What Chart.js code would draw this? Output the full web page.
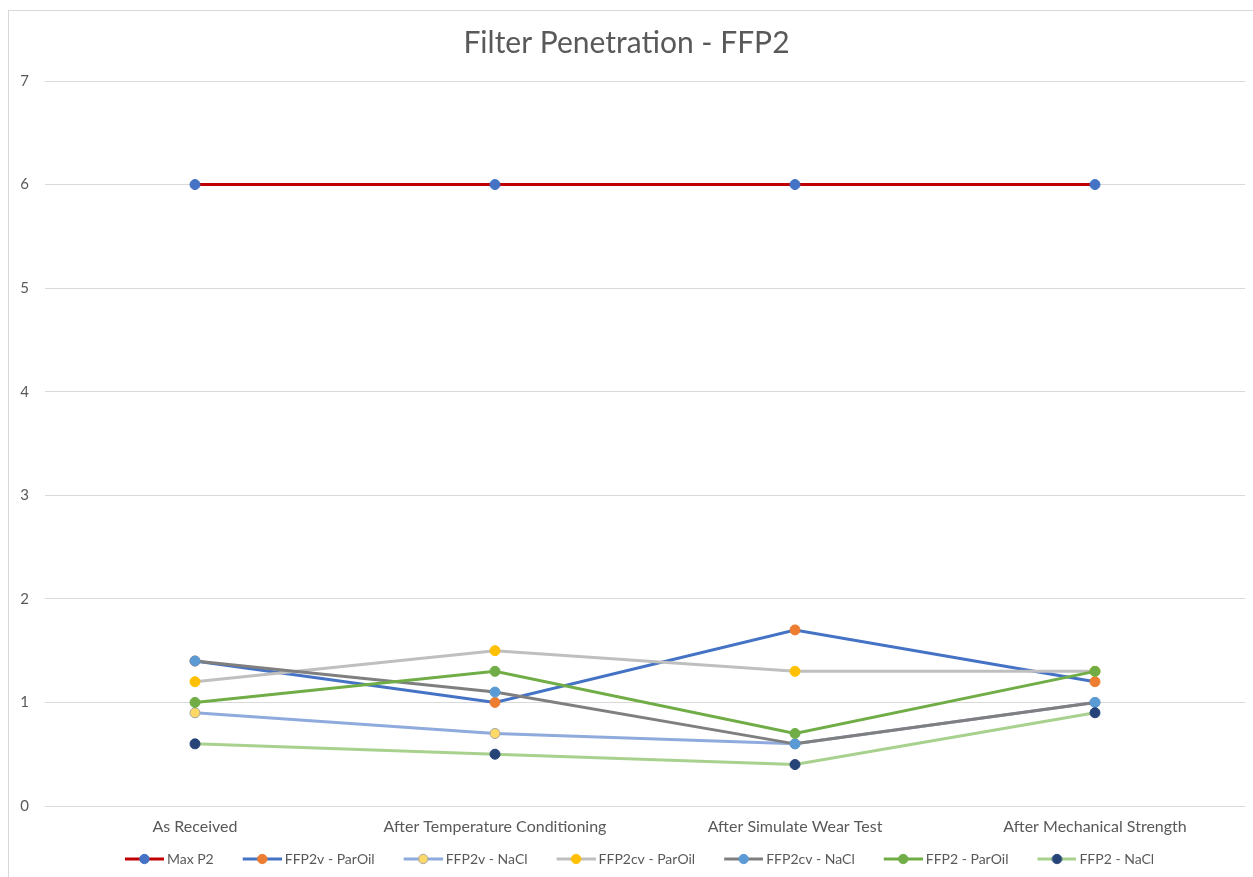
<!DOCTYPE html>
<html>
<head>
<meta charset="utf-8">
<title>Filter Penetration - FFP2</title>
<script src="https://cdn.jsdelivr.net/npm/chart.js@4"></script>
<style>
    html, body { margin: 0; padding: 0; background: #ffffff; }
    #wrap { width: 1253px; height: 877px; position: relative; }
</style>
</head>
<body>
<div id="wrap"><canvas id="penetrationChart" width="1253" height="877"></canvas></div>
<script>
// ==================== Data ====================
const categories = ['As Received', 'After Temperature Conditioning', 'After Simulate Wear Test', 'After Mechanical Strength'];
const yTicks = [0, 1, 2, 3, 4, 5, 6, 7];

const maxP2 = [6, 6, 6, 6];
const ffp2vParOil = [1.4, 1.0, 1.7, 1.2];
const ffp2vNaCl = [0.9, 0.7, 0.6, 1.0];
const ffp2cvParOil = [1.2, 1.5, 1.3, 1.3];
const ffp2cvNaCl = [1.4, 1.1, 0.6, 1.0];
const ffp2ParOil = [1.0, 1.3, 0.7, 1.3];
const ffp2NaCl = [0.6, 0.5, 0.4, 0.9];

const seriesNames = ['Max P2', 'FFP2v - ParOil', 'FFP2v - NaCl', 'FFP2cv - ParOil', 'FFP2cv - NaCl', 'FFP2 - ParOil', 'FFP2 - NaCl'];
const seriesValues = [maxP2, ffp2vParOil, ffp2vNaCl, ffp2cvParOil, ffp2cvNaCl, ffp2ParOil, ffp2NaCl];
const lineColors = ['#c00000', '#4472c4', '#8faadc', '#bfbfbf', '#7f7f7f', '#70ad47', '#a9d18e'];
const markerColors = ['#4472c4', '#ed7d31', '#ffd966', '#ffc000', '#5b9bd5', '#70ad47', '#264478'];
const markerBorders = ['#4472c4', '#ed7d31', '#a5a5a5', '#ffc000', '#5b9bd5', '#70ad47', '#264478'];

const textColor = '#595959';
const gridColor = '#d9d9d9';
const fontFamily = 'Lato, "Open Sans", sans-serif';

// ==================== Legend swatches (line + marker) ====================
// canvas is wider than the visible swatch: the blank left part spaces the items apart
function makeSwatch(lineColor, fill, border) {
    const c = document.createElement('canvas');
    c.width = 69;
    c.height = 12;
    const ctx = c.getContext('2d');
    ctx.strokeStyle = lineColor;
    ctx.lineWidth = 3;
    ctx.beginPath();
    ctx.moveTo(30, 6);
    ctx.lineTo(69, 6);
    ctx.stroke();
    ctx.beginPath();
    ctx.arc(49.5, 6, 4.7, 0, Math.PI * 2);
    ctx.fillStyle = fill;
    ctx.fill();
    ctx.lineWidth = 1;
    ctx.strokeStyle = border;
    ctx.stroke();
    return c;
}

// ==================== Frame plugin ====================
const framePlugin = {
    id: 'frame',
    beforeDraw(chart) {
        const ctx = chart.ctx;
        ctx.save();
        ctx.fillStyle = '#ffffff';
        ctx.fillRect(0, 0, chart.width, chart.height);
        ctx.strokeStyle = gridColor;
        ctx.lineWidth = 1;
        ctx.strokeRect(8.5, 10.5, chart.width + 10, chart.height + 10);
        ctx.restore();
    }
};

// ==================== Chart ====================
const datasets = seriesNames.map((name, i) => ({
    label: name,
    data: seriesValues[i],
    borderColor: lineColors[i],
    backgroundColor: markerColors[i],
    pointBackgroundColor: markerColors[i],
    pointBorderColor: markerBorders[i],
    pointBorderWidth: 1,
    pointRadius: 5,
    pointHoverRadius: 5,
    borderWidth: 3,
    tension: 0,
    fill: false,
    order: seriesNames.length - i
}));

const ctx = document.getElementById('penetrationChart').getContext('2d');
const penetrationChart = new Chart(ctx, {
    type: 'line',
    data: { labels: categories, datasets: datasets },
    options: {
        responsive: false,
        animation: false,
        devicePixelRatio: 1,
        layout: { padding: { left: 8, right: 8, top: 10, bottom: 1 } },
        plugins: {
            title: {
                display: true,
                text: 'Filter Penetration - FFP2',
                color: textColor,
                font: { family: fontFamily, size: 30, weight: 'normal' },
                padding: { top: 15, bottom: 20 }
            },
            legend: {
                display: true,
                position: 'bottom',
                labels: {
                    color: textColor,
                    font: { family: fontFamily, size: 14 },
                    usePointStyle: true,
                    pointStyleWidth: 61,
                    padding: 3,
                    generateLabels(chart) {
                        return chart.data.datasets.map((ds, i) => ({
                            text: ds.label,
                            fontColor: textColor,
                            pointStyle: makeSwatch(lineColors[i], markerColors[i], markerBorders[i]),
                            lineWidth: 0,
                            strokeStyle: 'transparent',
                            fillStyle: 'transparent',
                            hidden: false,
                            datasetIndex: i
                        }));
                    }
                }
            },
            tooltip: { enabled: false }
        },
        scales: {
            x: {
                offset: true,
                grid: { display: false, drawTicks: false },
                border: { display: false },
                ticks: {
                    color: textColor,
                    font: { family: fontFamily, size: 16 },
                    padding: 11,
                    maxRotation: 0
                },
                afterFit(scale) { scale.height = 43; }
            },
            y: {
                min: yTicks[0],
                max: yTicks[yTicks.length - 1],
                afterBuildTicks(scale) { scale.ticks = yTicks.map(v => ({ value: v })); },
                grid: { color: gridColor, lineWidth: 1, drawTicks: false },
                border: { display: false },
                ticks: {
                    color: textColor,
                    font: { family: fontFamily, size: 15 },
                    padding: 16
                },
                afterFit(scale) { scale.width = 37; }
            }
        }
    },
    plugins: [framePlugin]
});
</script>
</body>
</html>
